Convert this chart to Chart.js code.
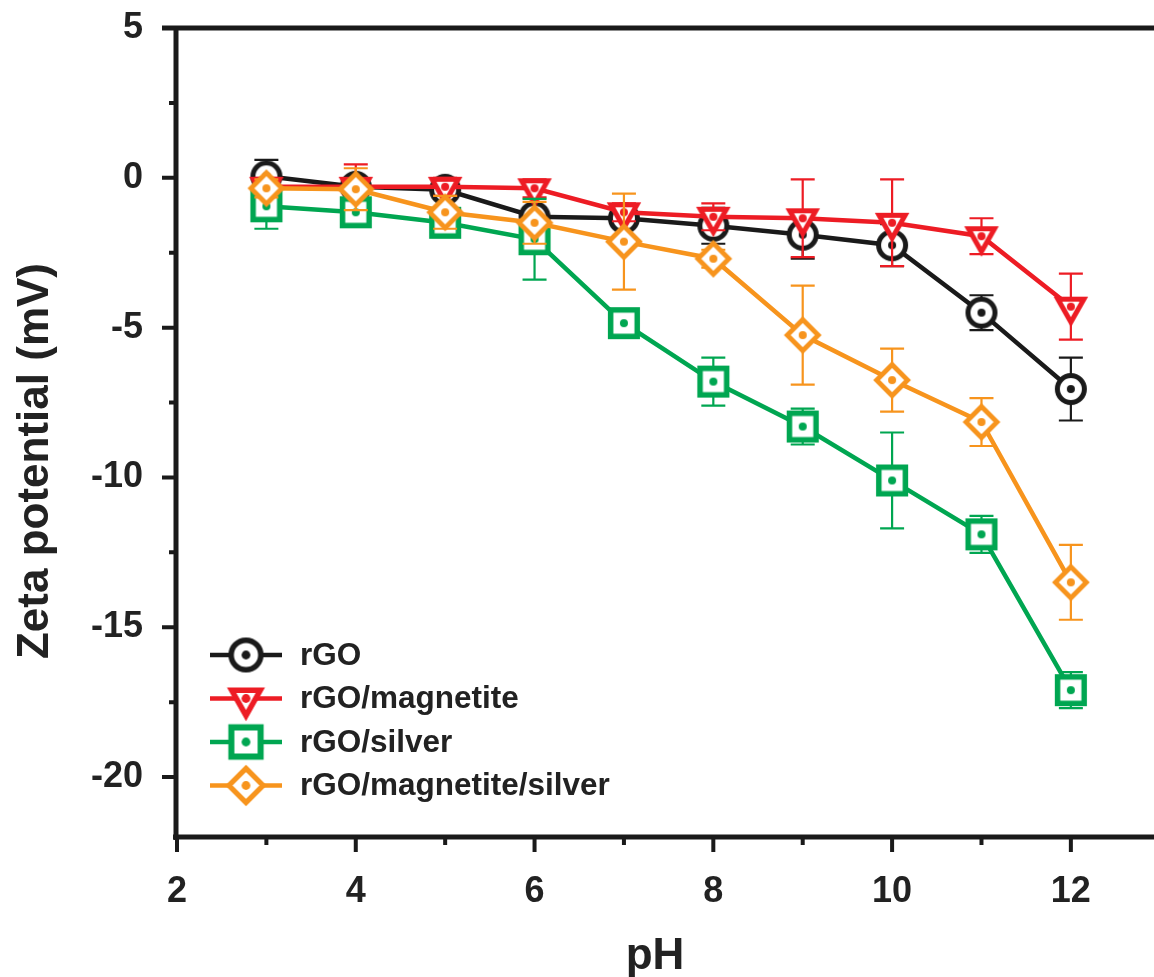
<!DOCTYPE html>
<html><head><meta charset="utf-8">
<script src="https://cdn.jsdelivr.net/npm/chart.js@4.4.1/dist/chart.umd.min.js"></script>
<style>html,body{margin:0;padding:0;background:#fff;overflow:hidden}#wrap{width:1154px;height:977px;position:relative}</style>
</head><body><div id="wrap"><canvas id="c" width="1154" height="977"></canvas></div>
<script>
// ---- data ----
const pH = [3, 4, 5, 6, 7, 8, 9, 10, 11, 12];
const rGO = [0.05, -0.3, -0.4, -1.3, -1.35, -1.6, -1.9, -2.25, -4.5, -7.05];
const rGOErr = [0.55, 0.3, 0.3, 0.3, 0.3, 0.6, 0.8, 0.7, 0.58, 1.05];
const rGOMag = [-0.3, -0.3, -0.3, -0.35, -1.15, -1.3, -1.35, -1.5, -1.95, -4.3];
const rGOMagErr = [0.3, 0.75, 0.3, 0.3, 0.3, 0.45, 1.3, 1.45, 0.6, 1.1];
const rGOAg = [-0.95, -1.15, -1.5, -2.05, -4.85, -6.8, -8.3, -10.1, -11.9, -17.1];
const rGOAgErr = [0.75, 0.3, 0.3, 1.35, 0.3, 0.8, 0.6, 1.6, 0.62, 0.6];
const rGOMagAg = [-0.35, -0.38, -1.15, -1.5, -2.13, -2.7, -5.25, -6.75, -8.15, -13.5];
const rGOMagAgErr = [0.3, 0.7, 0.55, 0.7, 1.6, 0.3, 1.65, 1.05, 0.8, 1.25];
const seriesNames = ['rGO', 'rGO/magnetite', 'rGO/silver', 'rGO/magnetite/silver'];
const xMajorTicks = [2, 4, 6, 8, 10, 12];
const xMinorTicks = [3, 5, 7, 9, 11];
const yMajorTicks = [5, 0, -5, -10, -15, -20];
const yMinorTicks = [2.5, -2.5, -7.5, -12.5, -17.5];
const xTitle = 'pH';
const yTitle = 'Zeta potential (mV)';

// ---- styles ----
const COLORS = ['#1a1a1a', '#ed1c24', '#00a651', '#f7941d'];
const FONT = '"Liberation Sans", Arial, Helvetica, sans-serif';
const AXIS = '#1a1a1a';

function makeMarker(type, color, scale) {
  const S = Math.ceil(48 * scale);
  const c = document.createElement('canvas');
  c.width = S; c.height = S;
  const g = c.getContext('2d');
  const m = S / 2;
  g.translate(m, m);
  g.scale(scale, scale);
  g.strokeStyle = color; g.fillStyle = '#fff'; g.lineJoin = 'miter';
  g.beginPath();
  if (type === 'circle') { g.lineWidth = 5; g.arc(0, 0, 13.5, 0, Math.PI * 2); }
  else if (type === 'tri') { g.lineWidth = 5; g.moveTo(-13, -7.5); g.lineTo(13, -7.5); g.lineTo(0, 15.5); g.closePath(); }
  else if (type === 'square') { g.lineWidth = 5.5; g.rect(-13.3, -13.3, 26.6, 26.6); }
  else { g.lineWidth = 4.8; g.moveTo(0, -15.5); g.lineTo(15.5, 0); g.lineTo(0, 15.5); g.lineTo(-15.5, 0); g.closePath(); }
  g.fill(); g.stroke();
  g.beginPath(); g.fillStyle = color; g.arc(0, 0, 4, 0, Math.PI * 2); g.fill();
  return c;
}
const TYPES = ['circle', 'tri', 'square', 'diamond'];
const markers = TYPES.map((t, i) => makeMarker(t, COLORS[i], 1));
const legendMarkers = TYPES.map((t, i) => makeMarker(t, COLORS[i], 1.1));

const values = [rGO, rGOMag, rGOAg, rGOMagAg];
const errs = [rGOErr, rGOMagErr, rGOAgErr, rGOMagAgErr];

const datasets = values.map((v, i) => ({
  label: seriesNames[i],
  data: pH.map((x, k) => ({ x: x, y: v[k] })),
  borderColor: COLORS[i],
  backgroundColor: COLORS[i],
  borderWidth: 4.5,
  pointStyle: markers[i],
  pointRadius: 14,
  tension: 0,
  order: 4 - i,
  clip: false
}));

const errPlugin = {
  id: 'errbars',
  beforeDatasetDraw(chart, args) {
    const i = args.index;
    const ctx = chart.ctx, xs = chart.scales.x, ys = chart.scales.y;
    ctx.save();
    ctx.strokeStyle = COLORS[i]; ctx.lineWidth = 2.2;
    pH.forEach((x, k) => {
      const px = xs.getPixelForValue(x);
      const t = ys.getPixelForValue(values[i][k] + errs[i][k]);
      const b = ys.getPixelForValue(values[i][k] - errs[i][k]);
      ctx.beginPath();
      ctx.moveTo(px, t); ctx.lineTo(px, b);
      ctx.moveTo(px - 12, t); ctx.lineTo(px + 12, t);
      ctx.moveTo(px - 12, b); ctx.lineTo(px + 12, b);
      ctx.stroke();
    });
    ctx.restore();
  }
};

const framePlugin = {
  id: 'frame',
  afterDraw(chart) {
    const ctx = chart.ctx, a = chart.chartArea, xs = chart.scales.x, ys = chart.scales.y;
    ctx.save();
    ctx.strokeStyle = AXIS; ctx.fillStyle = AXIS;
    // axis lines
    ctx.lineWidth = 5;
    ctx.beginPath();
    ctx.moveTo(a.left - 1, a.top - 2); ctx.lineTo(a.left - 1, a.bottom + 3);
    ctx.moveTo(a.left - 4, a.bottom); ctx.lineTo(chart.width, a.bottom);
    ctx.moveTo(a.left - 15, a.top); ctx.lineTo(chart.width, a.top);
    ctx.stroke();
    // ticks
    ctx.lineWidth = 4;
    ctx.beginPath();
    yMajorTicks.forEach(v => { const y = ys.getPixelForValue(v); ctx.moveTo(a.left - 15, y); ctx.lineTo(a.left, y); });
    yMinorTicks.forEach(v => { const y = ys.getPixelForValue(v); ctx.moveTo(a.left - 8, y); ctx.lineTo(a.left, y); });
    xMajorTicks.forEach(v => { const x = xs.getPixelForValue(v); ctx.moveTo(x, a.bottom); ctx.lineTo(x, a.bottom + 15); });
    xMinorTicks.forEach(v => { const x = xs.getPixelForValue(v); ctx.moveTo(x, a.bottom); ctx.lineTo(x, a.bottom + 8); });
    ctx.stroke();
    // axis titles
    ctx.fillStyle = '#222';
    ctx.font = 'bold 44px ' + FONT;
    ctx.textAlign = 'center'; ctx.textBaseline = 'middle';
    ctx.fillText(xTitle, 655, 957);
    ctx.save();
    ctx.translate(36, 461); ctx.rotate(-Math.PI / 2);
    ctx.fillText(yTitle, 0, 0);
    ctx.restore();
    // legend
    ctx.font = 'bold 31.5px ' + FONT;
    ctx.textAlign = 'left'; ctx.textBaseline = 'middle';
    seriesNames.forEach((name, i) => {
      const y = 655 + i * 43.5;
      ctx.strokeStyle = COLORS[i]; ctx.lineWidth = 4.5;
      ctx.beginPath(); ctx.moveTo(210, y); ctx.lineTo(282, y); ctx.stroke();
      const m = legendMarkers[i];
      ctx.drawImage(m, 246 - m.width / 2, y - m.height / 2);
      ctx.fillStyle = '#222';
      ctx.fillText(name, 300, y + 1);
    });
    ctx.restore();
  }
};

function zeroPad(s) { s.paddingTop = 0; s.paddingBottom = 0; s.paddingLeft = 0; s.paddingRight = 0; }

new Chart(document.getElementById('c'), {
  type: 'line',
  data: { datasets: datasets },
  plugins: [errPlugin, framePlugin],
  options: {
    responsive: false,
    animation: false,
    events: [],
    layout: { autoPadding: false, padding: { top: 28, left: 0, right: 0, bottom: 0 } },
    plugins: { legend: { display: false }, tooltip: { enabled: false } },
    scales: {
      x: {
        type: 'linear', min: 2, max: 12.93,
        afterBuildTicks: s => { s.ticks = [...xMajorTicks, ...xMinorTicks].sort((a, b) => a - b).map(v => ({ value: v })); },
        afterFit: s => { s.height = 140; zeroPad(s); },
        grid: { display: false, drawTicks: true, tickLength: 33 },
        border: { display: false },
        ticks: {
          autoSkip: false, maxRotation: 0, padding: 0, color: '#222',
          font: { family: FONT, size: 36, weight: 'bold' },
          callback: v => xMajorTicks.includes(v) ? String(v) : ''
        }
      },
      y: {
        type: 'linear', min: -22, max: 5,
        afterBuildTicks: s => { s.ticks = [...yMajorTicks, ...yMinorTicks].sort((a, b) => a - b).map(v => ({ value: v })); },
        afterFit: s => { s.width = 177; zeroPad(s); },
        grid: { display: false, drawTicks: true, tickLength: 34 },
        border: { display: false },
        ticks: {
          autoSkip: false, padding: 0, color: '#222',
          font: { family: FONT, size: 36, weight: 'bold' },
          callback: v => yMajorTicks.includes(v) ? String(v) : ''
        }
      }
    }
  }
});
</script>
</body></html>
